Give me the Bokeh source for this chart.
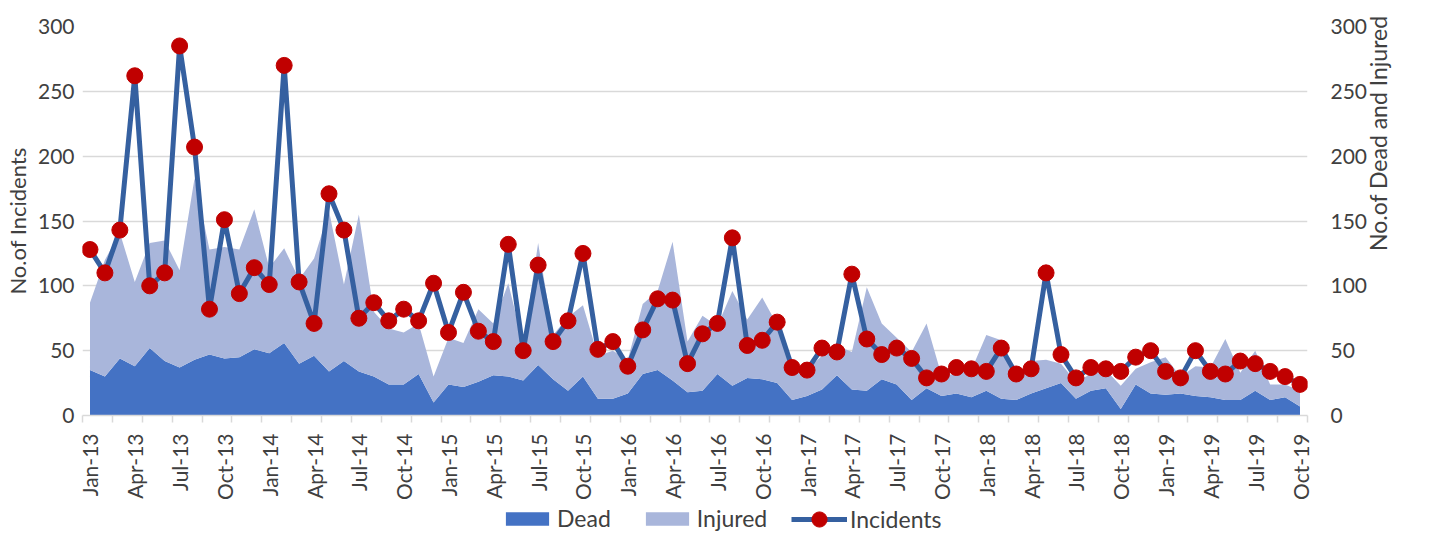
import math
from bokeh.plotting import figure
from bokeh.layouts import column
from bokeh.models import (ColumnDataSource, Range1d, LinearAxis, FixedTicker,
                          Legend, LegendItem)
from bokeh.embed import file_html
from bokeh.resources import INLINE

# ---------------- data ----------------
month_names = ["Jan", "Feb", "Mar", "Apr", "May", "Jun",
               "Jul", "Aug", "Sep", "Oct", "Nov", "Dec"]
years = ["13", "14", "15", "16", "17", "18", "19"]
months = [f"{m}-{y}" for y in years for m in month_names][:82]  # Jan-13 .. Oct-19

incidents = [128, 110, 143, 262, 100, 110, 285, 207, 82, 151, 94, 114,
             101, 270, 103, 71, 171, 143, 75, 87, 73, 82, 73, 102,
             64, 95, 65, 57, 132, 50, 116, 57, 73, 125, 51, 57,
             38, 66, 90, 89, 40, 63, 71, 137, 54, 58, 72, 37,
             35, 52, 49, 109, 59, 47, 52, 44, 29, 32, 37, 36,
             34, 52, 32, 36, 110, 47, 29, 37, 36, 34, 45, 50,
             34, 29, 50, 34, 32, 42, 40, 34, 30, 24]

dead = [35, 30, 44, 38, 52, 42, 37, 43, 47, 44, 45, 51,
        48, 56, 40, 46, 34, 42, 34, 30, 24, 24, 32, 10,
        24, 22, 26, 31, 30, 27, 39, 28, 19, 30, 13, 13,
        17, 32, 35, 27, 18, 19, 32, 23, 29, 28, 25, 12,
        15, 20, 31, 20, 19, 28, 24, 12, 21, 15, 17, 14,
        19, 13, 12, 17, 21, 25, 13, 19, 21, 5, 24, 17,
        16, 17, 15, 14, 12, 12, 19, 12, 14, 7]

injured = [52, 90, 97, 65, 81, 93, 75, 140, 81, 86, 83, 108,
           66, 73, 65, 75, 124, 59, 121, 50, 43, 40, 39, 20,
           36, 34, 56, 40, 72, 28, 94, 34, 57, 55, 33, 37,
           26, 54, 61, 107, 39, 58, 37, 73, 45, 63, 45, 27,
           20, 26, 23, 29, 80, 43, 36, 37, 50, 16, 15, 21,
           43, 45, 18, 25, 22, 15, 13, 13, 14, 18, 12, 24,
           29, 13, 23, 23, 47, 21, 31, 12, 10, 12]

y_ticks = [0, 50, 100, 150, 200, 250, 300]
left_title = "No.of Incidents"
right_title = "No.of Dead and Injured"

# ---------------- styling ----------------
FONT = "Lato"
TXT = "#404040"
C_DEAD = "#4472C4"
C_INJ = "#A9B6DB"
C_LINE = "#3560A0"
C_MARK = "#C00000"
GRID = "#D9D9D9"
W = 1413
MAIN_H = 503
LEG_H = 31

x_idx = list(range(len(months)))
src = ColumnDataSource(dict(x=x_idx, dead=dead, injured=injured,
                            incidents=incidents, month=months))

p = figure(width=W, height=MAIN_H, output_backend="svg", toolbar_location=None,
           min_border_left=74, min_border_right=106, min_border_top=26,
           min_border_bottom=88, x_range=Range1d(-0.5, len(months) - 0.5),
           y_range=Range1d(0, 300))
p.extra_y_ranges = {"right": Range1d(0, 300)}
p.outline_line_color = None
p.background_fill_color = "white"
p.border_fill_color = "white"

# areas (right axis)
areas = p.varea_stack(stackers=["dead", "injured"], x="x", source=src,
                      color=[C_DEAD, C_INJ], y_range_name="right")

# incidents line (left axis)
ln = p.line("x", "incidents", source=src, line_color=C_LINE, line_width=5,
            line_join="round")
mk = p.scatter("x", "incidents", source=src, size=16, fill_color=C_MARK,
               line_color=C_MARK)

# grid
p.xgrid.visible = False
p.ygrid.grid_line_color = GRID
p.ygrid.grid_line_width = 1.5
p.ygrid.ticker = FixedTicker(ticks=y_ticks)

# x axis
label_idx = [i for i in x_idx if i % 3 == 0]
p.xaxis.ticker = FixedTicker(ticks=label_idx,
                             minor_ticks=[i - 0.5 for i in range(0, len(months) + 1, 2)])
p.xaxis.major_label_overrides = {i: months[i] for i in label_idx}
p.xaxis.major_label_orientation = math.pi / 2
p.xaxis.major_tick_out = 0
p.xaxis.major_tick_in = 0
p.xaxis.minor_tick_out = 7
p.xaxis.minor_tick_in = 0
p.xaxis.minor_tick_line_color = GRID
p.xaxis.minor_tick_line_width = 1.5
p.xaxis.axis_line_color = GRID
p.xaxis.axis_line_width = 1.5
p.xaxis.major_label_standoff = 11
p.xaxis.major_label_text_font = FONT
p.xaxis.major_label_text_font_size = "21px"
p.xaxis.major_label_text_color = TXT

# left axis
la = p.yaxis[0]
la.ticker = FixedTicker(ticks=y_ticks)
la.axis_line_color = None
la.major_tick_line_color = None
la.minor_tick_line_color = None
la.major_tick_out = 0
la.major_tick_in = 0
la.major_label_standoff = 8
la.major_label_text_font = FONT
la.major_label_text_font_size = "21px"
la.major_label_text_color = TXT
la.axis_label = left_title
la.axis_label_text_font = FONT
la.axis_label_text_font_size = "22px"
la.axis_label_text_font_style = "normal"
la.axis_label_text_color = TXT
la.axis_label_standoff = 4

# right axis (tick labels)
ra = LinearAxis(y_range_name="right", ticker=FixedTicker(ticks=y_ticks))
ra.axis_line_color = None
ra.major_tick_line_color = None
ra.minor_tick_line_color = None
ra.major_tick_out = 0
ra.major_tick_in = 0
ra.major_label_standoff = 23
ra.major_label_text_font = FONT
ra.major_label_text_font_size = "21px"
ra.major_label_text_color = TXT
p.add_layout(ra, "right")

# right axis title, reading bottom-to-top like the reference
rt = LinearAxis(y_range_name="right", ticker=FixedTicker(ticks=[150]))
rt.major_label_overrides = {150: right_title}
rt.major_label_orientation = math.pi / 2
rt.axis_line_color = None
rt.major_tick_line_color = None
rt.minor_tick_line_color = None
rt.major_tick_out = 0
rt.major_tick_in = 0
rt.major_label_standoff = 8
rt.major_label_text_font = FONT
rt.major_label_text_font_size = "23px"
rt.major_label_text_color = TXT
p.add_layout(rt, "right")

# ---------------- legend strip (same series, drawn off-range) ----------------
lf = figure(width=W, height=LEG_H, output_backend="svg", toolbar_location=None,
            x_axis_location=None, y_axis_location=None,
            min_border=0, min_border_left=0, min_border_right=0,
            min_border_top=0, min_border_bottom=0,
            x_range=Range1d(-0.5, len(months) - 0.5), y_range=Range1d(1000, 1001))
lf.outline_line_color = None
lf.xgrid.visible = False
lf.ygrid.visible = False
l_areas = lf.varea_stack(stackers=["dead", "injured"], x="x", source=src,
                         color=[C_DEAD, C_INJ])
l_ln = lf.line("x", "incidents", source=src, line_color=C_LINE, line_width=5)
l_mk = lf.scatter("x", "incidents", source=src, size=16, fill_color=C_MARK,
                  line_color=C_MARK)

leg_common = dict(orientation="horizontal", label_standoff=3, padding=0, margin=0,
                  border_line_color=None, background_fill_alpha=0,
                  label_text_font=FONT, label_text_font_size="23px",
                  label_text_color=TXT)
leg1 = Legend(items=[LegendItem(label="Dead", renderers=[l_areas[0]]),
                     LegendItem(label="Injured", renderers=[l_areas[1]])],
              location=(418, 2), glyph_width=54, glyph_height=17, spacing=29,
              **leg_common)
leg2 = Legend(items=[LegendItem(label="Incidents", renderers=[l_ln, l_mk])],
              location=(709, -4), glyph_width=56, glyph_height=38, **leg_common)
lf.add_layout(leg1, "center")
lf.add_layout(leg2, "center")

layout = column(p, lf, spacing=0)
open("out.html", "w").write(file_html(layout, INLINE))
